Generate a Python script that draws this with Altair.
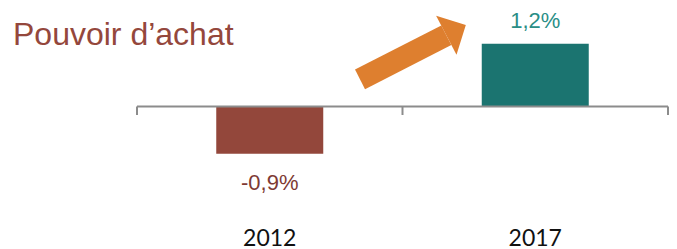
import altair as alt
import pandas as pd

years = ["2012", "2017"]
values = [-0.9, 1.2]
labels = ["-0,9%", "1,2%"]
bar_colors = ["#93473B", "#1B7470"]
label_colors = ["#7E3A33", "#2A8E86"]
title_text = "Pouvoir d\u2019achat"

tick_positions = [0, 1, 2]
arrow_x = [0.84, 1.165]
arrow_y = [0.52, 1.36]

df = pd.DataFrame({"year": years, "value": values, "label": labels,
                   "bar_color": bar_colors, "label_color": label_colors})
ticks_df = pd.DataFrame({"pos": tick_positions})
arrow_df = pd.DataFrame({"ax": [arrow_x[0]], "ax2": [arrow_x[1]],
                         "ay": [arrow_y[0]], "ay2": [arrow_y[1]]})
head_df = pd.DataFrame({"hx": [arrow_x[1]], "hy": [arrow_y[1]]})

W = 531
y_scale = alt.Scale(domain=[-2.2, 1.88], nice=False, zero=False)
xq_scale = alt.Scale(domain=[0, 2], nice=False, zero=False, range=[0, W])
x_band = alt.X("year:N", scale=alt.Scale(paddingInner=0, paddingOuter=0),
               axis=alt.Axis(title=None, domain=False, ticks=False, labelAngle=0,
                             labelFont="Lato", labelFontSize=23, labelColor="#111111",
                             labelPadding=5, labelBaseline="top"))

bars = alt.Chart(df).mark_bar(size=107).encode(
    x=x_band,
    y=alt.Y("value:Q", scale=y_scale, axis=None),
    color=alt.Color("bar_color:N", scale=None),
)

pos_labels = alt.Chart(df).transform_filter("datum.value >= 0").mark_text(
    font="Liberation Sans", fontSize=22, baseline="alphabetic", dy=-16
).encode(
    x=x_band, y=alt.Y("value:Q", scale=y_scale, axis=None), text="label:N",
    color=alt.Color("label_color:N", scale=None),
)
neg_labels = alt.Chart(df).transform_filter("datum.value < 0").mark_text(
    font="Liberation Sans", fontSize=22, baseline="alphabetic", dy=36
).encode(
    x=x_band, y=alt.Y("value:Q", scale=y_scale, axis=None), text="label:N",
    color=alt.Color("label_color:N", scale=None),
)

baseline = alt.Chart(ticks_df).mark_rule(color="#8C8C8C", strokeWidth=2).encode(
    x=alt.X("min(pos):Q", scale=xq_scale, axis=None),
    x2="max(pos):Q",
    y=alt.datum(0),
)
ticks = alt.Chart(ticks_df).mark_rule(color="#8C8C8C", strokeWidth=2).encode(
    x=alt.X("pos:Q", scale=xq_scale, axis=None),
    y=alt.datum(0),
    y2=alt.datum(-0.16),
)
arrow = alt.Chart(arrow_df).mark_rule(color="#DE7F2F", strokeWidth=22, strokeCap="butt").encode(
    x=alt.X("ax:Q", scale=xq_scale, axis=None), x2="ax2:Q",
    y=alt.Y("ay:Q"), y2="ay2:Q",
)
head = alt.Chart(head_df).mark_point(
    shape="M0,-1L1,0L-1,0Z", filled=True, color="#DE7F2F", opacity=1,
    size=1936, angle=62.4, strokeWidth=0
).encode(
    x=alt.X("hx:Q", scale=xq_scale, axis=None),
    y=alt.Y("hy:Q"),
)
title = alt.Chart(pd.DataFrame({"t": [title_text]})).mark_text(
    font="Liberation Sans", fontSize=32, color="#94473C", align="left",
    baseline="alphabetic"
).encode(
    x=alt.value(-124), y=alt.value(37), text="t:N"
)

band_layer = alt.layer(bars, pos_labels, neg_labels)
quant_layer = alt.layer(baseline, ticks, arrow, head, title)

chart = alt.layer(band_layer, quant_layer).resolve_scale(
    x="independent"
).properties(
    width=W, height=214,
    autosize=alt.AutoSizeParams(type="none"),
    padding={"left": 129, "top": 0, "right": 1, "bottom": 27},
).configure_view(stroke=None)

chart.save("out.html", embed_options={"renderer": "svg", "actions": False})
